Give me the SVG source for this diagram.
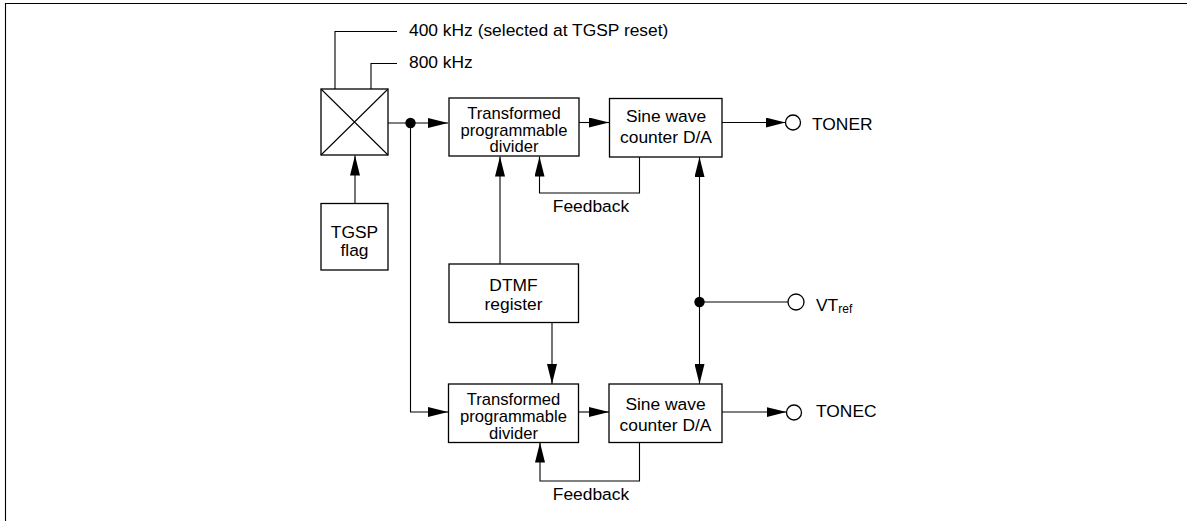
<svg xmlns="http://www.w3.org/2000/svg" width="1187" height="521" viewBox="0 0 1187 521">
<style>
.box{fill:#fff;stroke:#000;stroke-width:1.3}
.ln{fill:none;stroke:#000;stroke-width:1.1}
.t{font-family:"Liberation Sans",Arial,Helvetica,sans-serif;font-size:17.4px;fill:#000}
.s{font-size:16.6px}
.c{text-anchor:middle}
.port{fill:#fff;stroke:#000;stroke-width:1.3}
</style>
<defs>
<marker id="ah" markerUnits="userSpaceOnUse" markerWidth="20" markerHeight="10" refX="20" refY="5" orient="auto-start-reverse" viewBox="0 0 20 10">
<path d="M0,0 L20,5 L0,10 z" fill="#000"/>
</marker>
</defs>
<rect width="1187" height="521" fill="#fff"/>
<path class="ln" d="M5.5,521 V3.5 H1187" stroke-width="1.5"/>

<g id="connectors">
<path class="ln" d="M335,89 V31.5 H397"/>
<path class="ln" d="M371,89 V63.5 H397"/>
<path class="ln" d="M388,123 H448" marker-end="url(#ah)"/>
<path class="ln" d="M410.5,123 V412 H448" marker-end="url(#ah)"/>
<path class="ln" d="M355,203.5 V155.5" marker-end="url(#ah)"/>
<path class="ln" d="M579,122.5 H609" marker-end="url(#ah)"/>
<path class="ln" d="M722,122.5 H785.5" marker-end="url(#ah)"/>
<path class="ln" d="M639.5,157 V193 H539.5 V156.5" marker-end="url(#ah)"/>
<path class="ln" d="M500,264 V156.5" marker-end="url(#ah)"/>
<path class="ln" d="M552,322.5 V384" marker-end="url(#ah)"/>
<path class="ln" d="M579,412 H609" marker-end="url(#ah)"/>
<path class="ln" d="M722,412 H786.5" marker-end="url(#ah)"/>
<path class="ln" d="M639.5,442.5 V481 H540 V442.5" marker-end="url(#ah)"/>
<path class="ln" d="M699.5,157 V384" marker-start="url(#ah)" marker-end="url(#ah)"/>
<path class="ln" d="M699.5,302 H788"/>
<circle cx="410.5" cy="123" r="5.2" fill="#000"/>
<circle cx="699.5" cy="302" r="5.2" fill="#000"/>
</g>

<g id="clock-labels">
<text class="t" x="409" y="35.7">400 kHz (selected at TGSP reset)</text>
<text class="t" x="409" y="68.3">800 kHz</text>
</g>

<g id="mux">
<rect class="box" x="321" y="89" width="67" height="66"/>
<path class="ln" d="M321,89 L388,155 M388,89 L321,155"/>
</g>

<g id="tgsp-flag">
<rect class="box" x="321" y="203.5" width="67" height="66.5"/>
<text class="t c" x="354.5" y="237.5">TGSP</text>
<text class="t c" x="354.5" y="256">flag</text>
</g>

<g id="tpd-top">
<rect class="box" x="449" y="98" width="130" height="58"/>
<text class="t s c" x="514" y="118.8">Transformed</text>
<text class="t s c" x="514" y="135.5">programmable</text>
<text class="t s c" x="514" y="152.3">divider</text>
</g>

<g id="sine-top">
<rect class="box" x="609.5" y="98.5" width="112.5" height="58.5"/>
<text class="t c" x="666" y="122">Sine wave</text>
<text class="t c" x="666" y="143">counter D/A</text>
</g>

<g id="toner">
<circle class="port" cx="793" cy="122.5" r="7.5"/>
<text class="t" x="812" y="129.5">TONER</text>
</g>

<g id="dtmf">
<rect class="box" x="449" y="264" width="129.5" height="58.5"/>
<text class="t c" x="513.5" y="291">DTMF</text>
<text class="t c" x="513.5" y="310">register</text>
</g>

<g id="vtref">
<circle class="port" cx="796" cy="302" r="8"/>
<text class="t" x="816" y="310.5">VT<tspan font-size="12" dy="2.8">ref</tspan></text>
</g>

<g id="tpd-bottom">
<rect class="box" x="448.5" y="384" width="130" height="58.5"/>
<text class="t s c" x="513.5" y="404.8">Transformed</text>
<text class="t s c" x="513.5" y="422.2">programmable</text>
<text class="t s c" x="513.5" y="439">divider</text>
</g>

<g id="sine-bottom">
<rect class="box" x="609" y="384" width="113" height="58.5"/>
<text class="t c" x="665.5" y="409.5">Sine wave</text>
<text class="t c" x="665.5" y="430.5">counter D/A</text>
</g>

<g id="tonec">
<circle class="port" cx="794" cy="412.5" r="7.5"/>
<text class="t" x="816" y="417">TONEC</text>
</g>

<g id="feedback-labels">
<text class="t c" x="591" y="211.7">Feedback</text>
<text class="t c" x="591" y="500">Feedback</text>
</g>
</svg>
